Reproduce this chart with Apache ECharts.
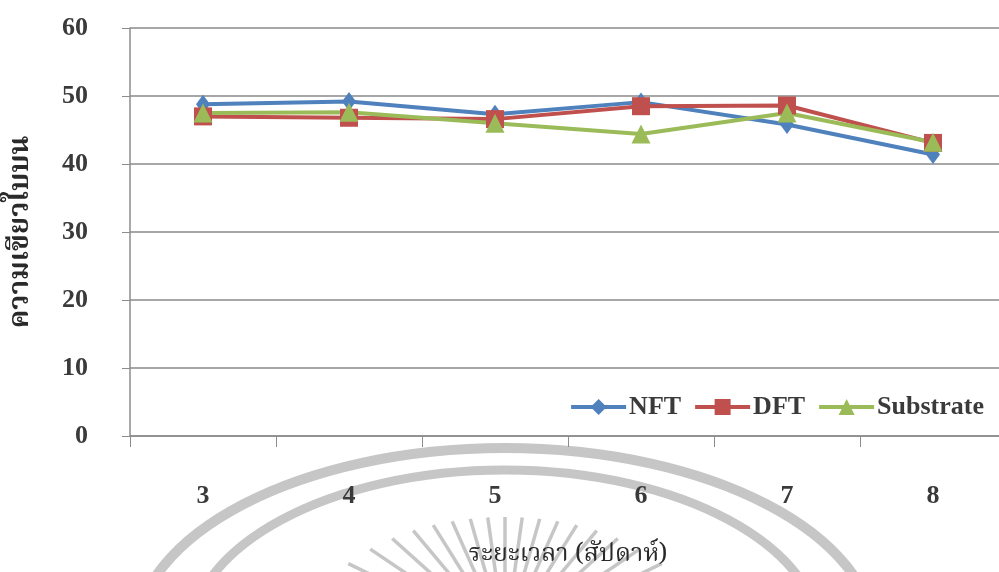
<!DOCTYPE html>
<html>
<head>
<meta charset="utf-8">
<script src="https://cdn.jsdelivr.net/npm/echarts@6/dist/echarts.min.js"></script>
<style>
html,body{margin:0;padding:0;background:#fff;}
#chart{width:999px;height:572px;}
</style>
</head>
<body>
<div id="chart"></div>
<script>
// Weeks after transplanting
const weeks = ['3', '4', '5', '6', '7', '8'];
// Leaf greenness readings per growing system
const nft = [48.8, 49.2, 47.3, 49.1, 45.8, 41.4];
const dft = [47.0, 46.8, 46.6, 48.5, 48.6, 43.1];
const substrate = [47.5, 47.6, 46.0, 44.4, 47.5, 43.2];
const yTicks = [0, 10, 20, 30, 40, 50, 60];

const serif = '"Liberation Serif", "Times New Roman", serif';
const thai = '"Noto Serif Thai", "Noto Sans Thai", "Loma", "Garuda", "Noto Sans", sans-serif';

// faint emblem in the page background: two arcs and a fan of rays
const wmColor = '#c6c6c6';
const rays = [];
const rc = { x: 505, y: 640 };
for (let a = -64; a <= 64; a += 8) {
  const rad = a * Math.PI / 180;
  const sx = Math.sin(rad), sy = -Math.cos(rad);
  // each ray starts on a flattened curve and runs in toward the hub
  const t0 = 1 / Math.sqrt((sx * sx) / (200 * 200) + (sy * sy) / (123 * 123));
  const t1 = t0 - 110;
  rays.push({
    type: 'line', silent: true, z: -10,
    shape: { x1: rc.x + t0 * sx, y1: rc.y + t0 * sy, x2: rc.x + t1 * sx, y2: rc.y + t1 * sy },
    style: { stroke: wmColor, lineWidth: 3.5 }
  });
}

const chart = echarts.init(document.getElementById('chart'), null, { renderer: 'canvas' });

function mkSeries(name, data, color, symbol, size) {
  return {
    name, type: 'line', data,
    symbol, symbolSize: size,
    lineStyle: { color, width: 4 },
    itemStyle: { color },
    emphasis: { disabled: true },
    animation: false
  };
}

chart.setOption({
  backgroundColor: '#fff',
  animation: false,
  grid: { left: 130, top: 28, width: 876, height: 408, outerBoundsMode: 'none', containLabel: false },
  graphic: [
    { type: 'ellipse', silent: true, z: -10, shape: { cx: 505, cy: 640, rx: 370, ry: 192 }, style: { fill: 'none', stroke: wmColor, lineWidth: 10 } },
    { type: 'ellipse', silent: true, z: -10, shape: { cx: 505, cy: 640, rx: 316, ry: 170 }, style: { fill: 'none', stroke: wmColor, lineWidth: 9 } }
  ].concat(rays),
  legend: {
    right: 10, top: 389,
    itemWidth: 55, itemHeight: 20, itemGap: 12,
    lineStyle: { width: 4 },
    textStyle: { fontFamily: serif, fontWeight: 'bold', fontSize: 26, color: '#3a3a3a', padding: [0, 0, 0, -2] },
    data: ['NFT', 'DFT', 'Substrate']
  },
  xAxis: {
    type: 'category', data: weeks, boundaryGap: true,
    name: 'ระยะเวลา (สัปดาห์)', nameLocation: 'middle', nameGap: 108,
    nameTextStyle: { fontFamily: thai, fontSize: 25, color: '#2a2a2a' },
    axisLine: { lineStyle: { color: '#8c8c8c', width: 1.5 } },
    axisTick: { show: true, length: 11, interval: 0, lineStyle: { color: '#8c8c8c' } },
    axisLabel: { margin: 47, fontFamily: serif, fontWeight: 'bold', fontSize: 26, color: '#3a3a3a' }
  },
  yAxis: {
    type: 'value', min: yTicks[0], max: yTicks[yTicks.length - 1], interval: 10,
    name: 'ความเขียวใบบน', nameLocation: 'middle', nameGap: 93, nameRotate: 90,
    nameTextStyle: { fontFamily: thai, fontWeight: 'bold', fontSize: 28, color: '#2a2a2a' },
    axisLine: { show: true, lineStyle: { color: '#8c8c8c', width: 1.5 } },
    axisTick: { show: true, length: 8, lineStyle: { color: '#8c8c8c' } },
    axisLabel: { margin: 42, fontFamily: serif, fontWeight: 'bold', fontSize: 26, color: '#3a3a3a' },
    splitLine: { lineStyle: { color: '#8a8a8a', width: 1.5 } }
  },
  series: [
    mkSeries('NFT', nft, '#4f81bd', 'diamond', [14, 19]),
    mkSeries('DFT', dft, '#c0504d', 'rect', 18),
    mkSeries('Substrate', substrate, '#9bbb59', 'triangle', 19)
  ]
});
</script>
</body>
</html>
